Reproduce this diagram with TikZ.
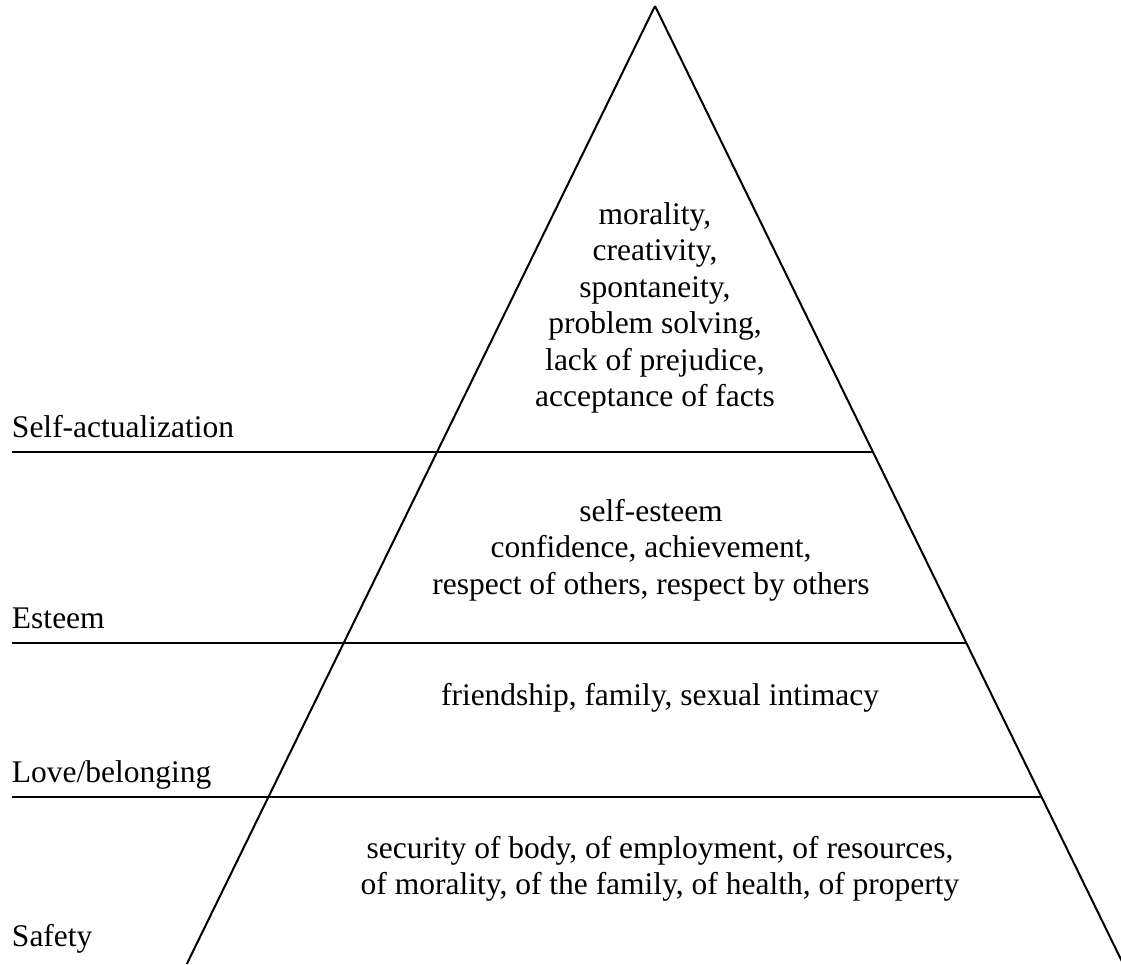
\documentclass[tikz,border=0pt]{standalone}
\usepackage{fontspec}
\setmainfont{Liberation Serif}
\usetikzlibrary{positioning,calc}

\begin{document}
\begin{tikzpicture}
    [x=1pt,y=1pt,line width=2pt,
     lvl/.style={anchor=base west,inner sep=0pt,font=\fontsize{31.5}{36.5}\selectfont},
     need/.style={anchor=base,inner sep=0pt,align=center,font=\fontsize{31.5}{36.5}\selectfont}]

    \useasboundingbox (0,0) rectangle (1121,-964);

    \coordinate (top) at (655,-6);
    \coordinate (bl) at (186.8,-964);
    \coordinate (br) at (1123.2,-964);

    \draw (top) -- (bl);
    \draw (top) -- (br);

    \draw (12,-452) -- (873,-452);
    \draw (12,-643) -- (966.3,-643);
    \draw (12,-797) -- (1041.6,-797);

    \node[lvl] (selfact) at (11,-437) {Self-actualization};
    \node[lvl] (esteem) at (11,-628) {Esteem};
    \node[lvl] (love) at (11,-782) {Love/belonging};
    \node[lvl] (safety) at (11,-946) {Safety};

    % anchor base = baseline of the last line
    \node[need] (selfacttxt) at (655,-406.5) {morality,\\creativity,\\spontaneity,\\problem solving,\\lack of prejudice,\\acceptance of facts};
    \node[need] (esteemtxt) at (651,-594) {self-esteem\\confidence, achievement,\\respect of others, respect by others};
    \node[need] (lovetxt) at (660,-705) {friendship, family, sexual intimacy};
    \node[need] (safetytxt) at (660,-894.5) {security of body, of employment, of resources,\\of morality, of the family, of health, of property};

\end{tikzpicture}
\end{document}
